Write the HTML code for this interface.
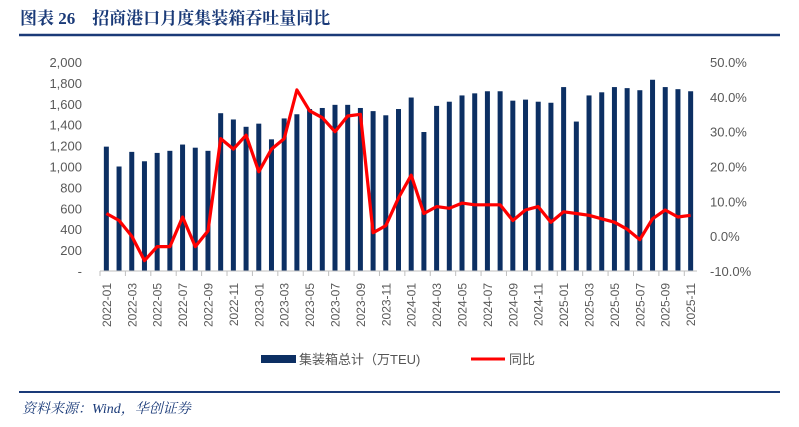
<!DOCTYPE html>
<html><head><meta charset="utf-8"><style>
body{margin:0;background:#fff;width:799px;height:427px;overflow:hidden;font-family:"Liberation Sans","Noto Sans CJK SC",sans-serif;}
</style></head><body>
<svg width="799" height="427" style="position:absolute;left:0;top:0">
<text x="20" y="24" font-family="'Liberation Serif','Noto Serif CJK SC',serif" font-weight="bold" font-size="17" fill="#1a3a78">图表 26　招商港口月度集装箱吞吐量同比</text>
<line x1="19" y1="35" x2="780" y2="35" stroke="#1a3a78" stroke-width="2.5"/>
<g id="yl"></g>
<g id="yr"></g>
<g id="bars"></g>
<g id="xa"></g>
<path id="line" fill="none" stroke="#ff0000" stroke-width="3.2" stroke-linejoin="round"/>
<g>
<rect x="261" y="355" width="35" height="8" fill="#0c2f63"/>
<text x="299" y="364" font-size="13" fill="#555">集装箱总计（万TEU)</text>
<line x1="471" y1="359" x2="505" y2="359" stroke="#ff0000" stroke-width="3"/>
<text x="509" y="364" font-size="13" fill="#555">同比</text>
</g>
<line x1="19" y1="392" x2="780" y2="392" stroke="#1a3a78" stroke-width="2"/>
<text x="22" y="413" font-family="'Liberation Serif','Noto Serif CJK SC',serif" font-style="italic" font-size="14" fill="#1a3a78">资料来源：Wind，华创证券</text>
</svg>
<script>
const categories=[];for(let y=2022;y<=2025;y++)for(let m=1;m<=12;m++){if(y===2025&&m>11)break;categories.push(y+'-'+String(m).padStart(2,'0'));}
const volume=[1190,1000,1140,1050,1130,1150,1210,1180,1150,1510,1450,1380,1410,1260,1460,1500,1550,1560,1590,1590,1560,1530,1490,1550,1660,1330,1580,1620,1680,1700,1720,1720,1630,1640,1620,1610,1760,1430,1680,1710,1760,1750,1730,1830,1760,1740,1720];
const yoy=[6.5,4.5,0,-7,-3,-3,5.5,-3,1.5,28,25,29,18.5,25,28,42,36,34,30,34.5,35,1,3,11,17.5,6.5,8.5,8,9.5,9,9,9,4.5,7.5,8.5,4,7,6.5,6,5,4,2,-1,5,7.5,5.5,6];
const leftTicks=[0,200,400,600,800,1000,1200,1400,1600,1800,2000];
const rightTicks=[-10,0,10,20,30,40,50];
const NS='http://www.w3.org/2000/svg';
const X0=100,X1=697,Y0=271,Y1=62;
const step=(X1-X0)/categories.length;
const xc=i=>X0+step*(i+0.5);
const yL=v=>Y0-(v/2000)*(Y0-Y1);
const yR=v=>Y0-((v+10)/60)*(Y0-Y1);
function mk(t,a,p){const e=document.createElementNS(NS,t);for(const k in a)e.setAttribute(k,a[k]);p.appendChild(e);return e;}
const gl=document.getElementById('yl');
leftTicks.forEach(v=>{const t=mk('text',{x:82,y:yL(v)+5,'text-anchor':'end','font-size':13,fill:'#595959'},gl);t.textContent=v===0?'-':v.toLocaleString('en-US');

});
const gr=document.getElementById('yr');
rightTicks.forEach(v=>{const t=mk('text',{x:710,y:yR(v)+5,'font-size':13,fill:'#595959'},gr);t.textContent=v.toFixed(1)+'%';

});
const gb=document.getElementById('bars');
volume.forEach((v,i)=>{const r=mk('rect',{x:xc(i)-2.5,y:yL(v),width:5,height:Y0-yL(v),fill:'#0c2f63'},gb);

});
const gx=document.getElementById('xa');
mk('line',{x1:X0,y1:Y0,x2:X1,y2:Y0,stroke:'#bfbfbf','stroke-width':1},gx);
for(let i=0;i<=categories.length;i+=2){mk('line',{x1:X0+step*i,y1:Y0,x2:X0+step*i,y2:Y0+5,stroke:'#bfbfbf'},gx);}
categories.forEach((c,i)=>{if(i%2)return;const t=mk('text',{transform:`translate(${xc(i)+4.5},283) rotate(-90)`,'text-anchor':'end','font-size':12,fill:'#595959'},gx);t.textContent=c;

});
document.getElementById('line').setAttribute('d',yoy.map((v,i)=>(i?'L':'M')+xc(i).toFixed(1)+','+yR(v).toFixed(1)).join(''));
</script>
</body></html>
